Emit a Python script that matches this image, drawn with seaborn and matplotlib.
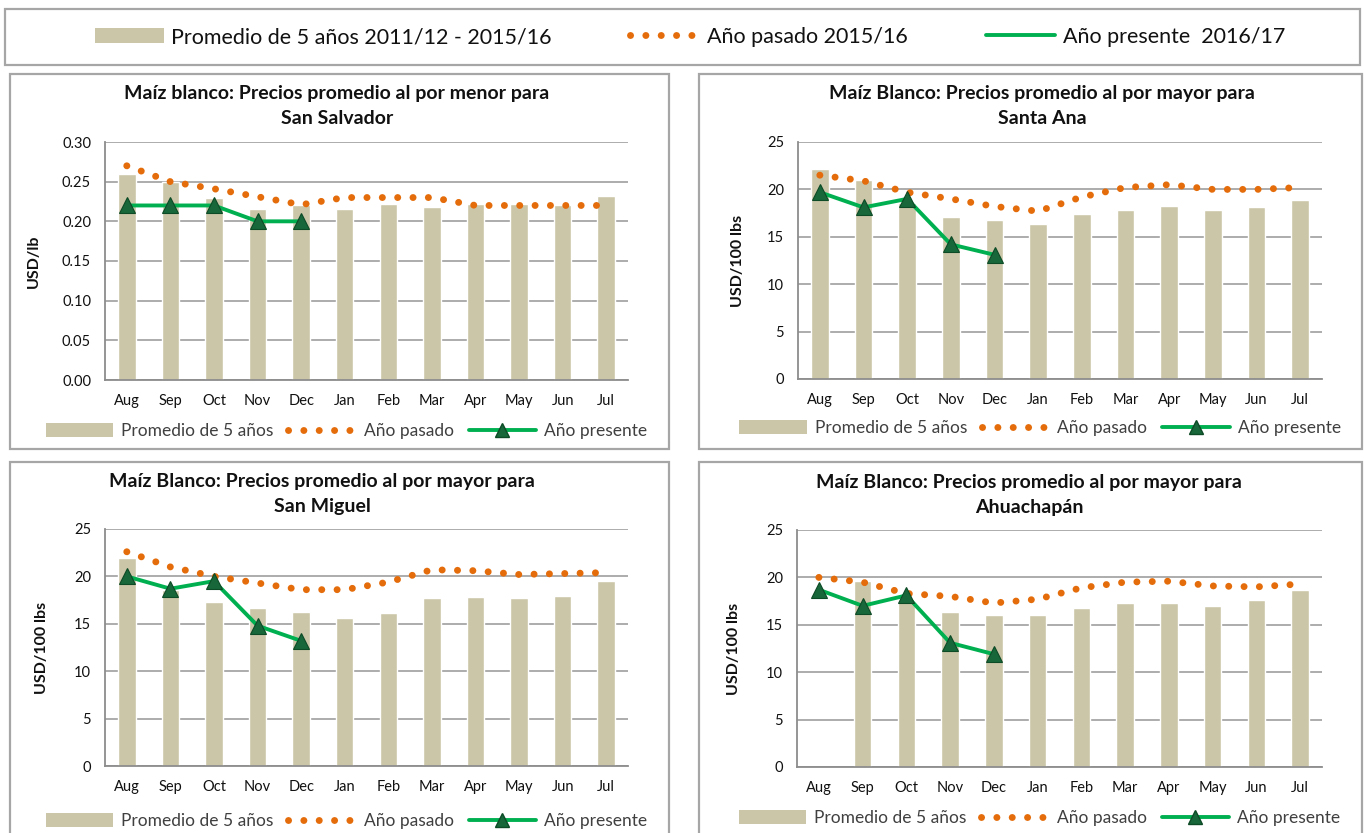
import matplotlib
matplotlib.use("Agg")
import matplotlib.pyplot as plt
import seaborn as sns
import numpy as np
import pandas as pd
from matplotlib.patches import Rectangle, Patch
from matplotlib.lines import Line2D

months = ["Aug", "Sep", "Oct", "Nov", "Dec", "Jan", "Feb", "Mar", "Apr", "May", "Jun", "Jul"]

# San Salvador, al por menor (USD/lb)
ss_avg = [0.260, 0.250, 0.230, 0.216, 0.220, 0.216, 0.222, 0.218, 0.222, 0.222, 0.220, 0.232]
ss_past = [0.270, 0.250, 0.241, 0.231, 0.221, 0.230, 0.230, 0.230, 0.220, 0.220, 0.220, 0.220]
ss_now = [0.22, 0.22, 0.22, 0.20, 0.20]

# Santa Ana, al por mayor (USD/100 lbs)
sa_avg = [22.1, 21.0, 18.6, 17.1, 16.8, 16.3, 17.4, 17.8, 18.2, 17.8, 18.1, 18.9]
sa_past = [21.5, 20.9, 19.7, 19.0, 18.2, 17.7, 19.2, 20.2, 20.5, 20.0, 20.0, 20.2]
sa_now = [19.7, 18.1, 19.0, 14.2, 13.1]

# San Miguel
sm_avg = [21.9, 18.6, 17.3, 16.7, 16.2, 15.6, 16.1, 17.7, 17.8, 17.7, 17.9, 19.5]
sm_past = [22.6, 21.0, 20.0, 19.3, 18.6, 18.6, 19.4, 20.7, 20.6, 20.2, 20.3, 20.4]
sm_now = [20.0, 18.7, 19.5, 14.8, 13.2]

# Ahuachapan (no average for Aug)
ah_avg = [np.nan, 19.6, 17.4, 16.4, 16.0, 16.0, 16.8, 17.3, 17.3, 17.0, 17.6, 18.7]
ah_past = [20.0, 19.5, 18.3, 18.0, 17.3, 17.7, 18.9, 19.5, 19.6, 19.1, 19.0, 19.3]
ah_now = [18.7, 17.0, 18.1, 13.1, 11.9]

BAR = "#cbc6a8"
ORANGE = "#e46c0a"
GREEN = "#00b050"
DKGREEN = "#17673a"
GRID = "#a6a6a6"
DOTS = (0, (0.01, 2.2))

W, H = 1364, 833
sns.set_theme(style="white")
plt.rcParams["font.family"] = ["Lato", "DejaVu Sans"]

fig = plt.figure(figsize=(W / 100, H / 100), dpi=100)


def box(x0, y0, x1, y1):
    fig.patches.append(Rectangle((x0 / W, 1 - y1 / H), (x1 - x0) / W, (y1 - y0) / H,
                                 transform=fig.transFigure, fill=False,
                                 ec=GRID, lw=1.6, zorder=0))


def fx(x):
    return x / W


def fy(y):
    return 1 - y / H


def panel(rect, avg, past, now, ymax, step, fmt, ylabel, title, tx, ty, ylx, legy):
    l, t, r, b = rect
    ax = fig.add_axes([fx(l), fy(b), (r - l) / W, (b - t) / H])
    df = pd.DataFrame({"mes": months, "prom": avg})
    sns.barplot(data=df, x="mes", y="prom", order=months, color=BAR, width=0.4,
                saturation=1, errorbar=None, ax=ax, zorder=2)
    x = np.arange(len(months))
    sns.lineplot(x=x, y=past, ax=ax, color=ORANGE, lw=5, linestyle=DOTS,
                 dash_capstyle="round", zorder=3)
    sns.lineplot(x=x[:len(now)], y=now, ax=ax, color=GREEN, lw=2.8, marker="^",
                 markersize=11, mfc=DKGREEN, mec="#0d4a26", mew=0.8, zorder=4)

    ax.set_xlim(-0.5, 11.5)
    ax.set_ylim(0, ymax)
    ax.set_yticks(np.arange(0, ymax + step / 2, step))
    ax.yaxis.set_major_formatter(matplotlib.ticker.FormatStrFormatter(fmt))
    ax.set_xticks(x)
    ax.set_xticklabels(months)
    ax.set_xticks(np.arange(-0.5, 12, 1), minor=True)
    ax.tick_params(axis="x", which="major", length=0, pad=10, labelsize=10.5, labelcolor="#111111")
    ax.tick_params(axis="x", which="minor", length=4, width=1.2, color="#8c8c8c", direction="out")
    ax.tick_params(axis="y", length=4, width=1.2, color="#8c8c8c", direction="out",
                   pad=6, labelsize=10.5, labelcolor="#111111")
    ax.yaxis.grid(True, color=GRID, lw=1.3)
    ax.set_axisbelow(True)
    for s in ["top", "right"]:
        ax.spines[s].set_visible(False)
    for s in ["left", "bottom"]:
        ax.spines[s].set_color("#8c8c8c")
        ax.spines[s].set_linewidth(1.3)
    ax.set_xlabel("")
    ax.set_ylabel("")
    fig.text(fx(ylx), fy((t + b) / 2), ylabel, rotation=90, ha="center", va="center",
             fontsize=11.5, fontweight="bold", color="#111111")
    fig.text(fx(tx), fy(ty), title, ha="center", va="center", fontsize=14,
             fontweight="bold", color="#111111", linespacing=1.55)

    handles = [Patch(facecolor=BAR, edgecolor="none"),
               Line2D([], [], color=ORANGE, lw=5, linestyle=DOTS, dash_capstyle="round"),
               Line2D([], [], color=GREEN, lw=2.8, marker="^", markersize=10,
                      mfc=DKGREEN, mec="#0d4a26")]
    labels = ["Promedio de 5 años", "Año pasado", "Año presente"]
    ax.legend(handles, labels, loc="center", bbox_to_anchor=(fx((l + r) / 2 - 20), fy(legy)),
              bbox_transform=fig.transFigure, ncol=3, frameon=False, fontsize=12.5,
              handlelength=3.9, handleheight=0.8, handletextpad=0.45, columnspacing=0.85,
              labelcolor="#404040", numpoints=1)
    return ax


# outer frames
box(5, 9, 1360, 65)
box(10, 74, 669, 449)
box(699, 74, 1362, 449)
box(10, 462, 669, 840)
box(699, 462, 1362, 840)

panel((105, 142, 628, 380), ss_avg, ss_past, ss_now, 0.30, 0.05, "%.2f", "USD/lb",
      "Maíz blanco: Precios promedio al por menor para\nSan Salvador", 337, 106, 34, 431)
panel((798, 142, 1322, 379), sa_avg, sa_past, sa_now, 25, 5, "%d", "USD/100 lbs",
      "Maíz Blanco: Precios promedio al por mayor para\nSanta Ana", 1042, 106, 738, 428)
panel((105, 529, 628, 766), sm_avg, sm_past, sm_now, 25, 5, "%d", "USD/100 lbs",
      "Maíz Blanco: Precios promedio al por mayor para\nSan Miguel", 322, 494, 42, 821)
panel((797, 530, 1322, 767), ah_avg, ah_past, ah_now, 25, 5, "%d", "USD/100 lbs",
      "Maíz Blanco: Precios promedio al por mayor para\nAhuachapán", 1029, 495, 734, 818)

top_handles = [Patch(facecolor=BAR, edgecolor="none"),
               Line2D([], [], color=ORANGE, lw=5, linestyle=DOTS, dash_capstyle="round"),
               Line2D([], [], color=GREEN, lw=2.8)]
top_labels = ["Promedio de 5 años 2011/12 - 2015/16", "Año pasado 2015/16", "Año presente  2016/17"]
fig.legend(top_handles, top_labels, loc="center", bbox_to_anchor=(fx(690), fy(37)),
           ncol=3, frameon=False, fontsize=15.5, handlelength=3.2, handleheight=0.7,
           handletextpad=0.35, columnspacing=3.65, labelcolor="#111111")

fig.savefig("out.png", dpi=100)
